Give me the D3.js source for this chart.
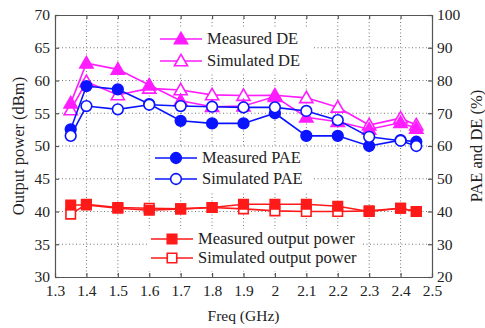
<!DOCTYPE html>
<html>
<head>
<meta charset="utf-8">
<script src="https://cdn.jsdelivr.net/npm/d3@7"></script>
<style>
  body { margin: 0; background: #fff; }
  svg text { font-family: "Liberation Serif", "Times New Roman", "DejaVu Serif", serif !important; fill: #222; }
</style>
</head>
<body>
<svg id="chart" width="485" height="328" font-family="Liberation Serif, serif"></svg>
<script>
// Frequencies (GHz)
const freq = [1.35, 1.4, 1.5, 1.6, 1.7, 1.8, 1.9, 2.0, 2.1, 2.2, 2.3, 2.4, 2.45];

// Right axis series (%)
const measDE  = [73.1, 85.3, 83.4, 78.6, 73.8, 72.0, 72.2, 75.1, 68.8, 67.4, 65.1, 67.1, 65.4];
const simDE   = [71.0, 79.6, 75.6, 77.6, 77.1, 75.6, 75.4, 75.5, 74.7, 71.8, 66.4, 68.5, 66.4];
const measPAE = [65.1, 78.3, 77.3, 72.8, 67.7, 66.9, 66.9, 70.0, 63.1, 63.1, 60.0, 61.8, 61.3];
const simPAE  = [63.1, 72.2, 71.2, 72.6, 72.2, 72.0, 71.8, 71.8, 70.7, 67.9, 62.8, 61.6, 60.0];

// Left axis series (dBm)
const measPout = [41.0, 41.0, 40.5, 40.2, 40.4, 40.6, 41.1, 41.1, 41.1, 40.8, 40.0, 40.5, 40.0];
const simPout  = [39.6, 41.1, 40.6, 40.5, 40.4, 40.6, 40.4, 40.1, 40.0, 40.0, 40.1, 40.5, 40.0];

const xTicks = [1.3, 1.4, 1.5, 1.6, 1.7, 1.8, 1.9, 2.0, 2.1, 2.2, 2.3, 2.4, 2.5];
const yLeftTicks = [30, 35, 40, 45, 50, 55, 60, 65, 70];
const yRightTicks = [20, 30, 40, 50, 60, 70, 80, 90, 100];

const MAG = '#ff1cff', BLUE = '#0a14ff', RED = '#ff1a1a';
const FONT = '"Liberation Serif", "Times New Roman", serif';

const svg = d3.select('#chart');
const m = {left: 55, right: 53, top: 15, bottom: 51};
const W = 485, H = 328;
const x = d3.scaleLinear().domain([1.3, 2.5]).range([m.left, W - m.right]);
const yL = d3.scaleLinear().domain([30, 70]).range([H - m.bottom, m.top]);
const yR = d3.scaleLinear().domain([20, 100]).range([H - m.bottom, m.top]);

// grid
const grid = svg.append('g').attr('stroke', '#777').attr('stroke-width', 1).attr('stroke-dasharray', '1,2.5');
grid.selectAll('line.vx').data(xTicks.slice(1, -1)).join('line')
  .attr('x1', d => x(d)).attr('x2', d => x(d)).attr('y1', m.top).attr('y2', H - m.bottom);
grid.selectAll('line.hy').data(yLeftTicks.slice(1, -1)).join('line')
  .attr('x1', m.left).attr('x2', W - m.right).attr('y1', d => yL(d)).attr('y2', d => yL(d));

// legend backgrounds (cover grid)
const legBoxes = [[150, 27, 162, 47], [150, 147, 163, 44], [147, 229, 216, 42]];
svg.append('g').selectAll('rect').data(legBoxes).join('rect')
  .attr('x', d => d[0]).attr('y', d => d[1]).attr('width', d => d[2]).attr('height', d => d[3])
  .attr('fill', '#fff');

// axes
const axisColor = '#555';
const ax = svg.append('g');
ax.append('g').attr('transform', `translate(0,${H - m.bottom})`)
  .call(d3.axisBottom(x).tickValues(xTicks).tickFormat(d3.format('')).tickSizeInner(-4).tickSizeOuter(0).tickPadding(8));
ax.append('g').attr('transform', `translate(0,${m.top})`)
  .call(d3.axisTop(x).tickValues(xTicks).tickFormat('').tickSizeInner(-4).tickSizeOuter(0));
ax.append('g').attr('transform', `translate(${m.left},0)`)
  .call(d3.axisLeft(yL).tickValues(yLeftTicks).tickSizeInner(-4).tickSizeOuter(0).tickPadding(5));
ax.append('g').attr('transform', `translate(${W - m.right},0)`)
  .call(d3.axisRight(yR).tickValues(yRightTicks).tickSizeInner(-4).tickSizeOuter(0).tickPadding(5));
ax.selectAll('g').attr('font-family', FONT);
ax.selectAll('path, line').attr('stroke', axisColor).attr('stroke-width', 1.2);
ax.selectAll('text').attr('font-size', 15.5).attr('fill', '#222');

// titles
svg.append('text').attr('x', (m.left + W - m.right) / 2).attr('y', 321).attr('text-anchor', 'middle')
  .attr('font-size', 15.5).text('Freq (GHz)');
svg.append('text').attr('transform', `translate(24,${(m.top + H - m.bottom) / 2}) rotate(-90)`)
  .attr('text-anchor', 'middle').attr('font-size', 16.5).text('Output power (dBm)');
svg.append('text').attr('transform', `translate(482,${(m.top + H - m.bottom) / 2}) rotate(-90)`)
  .attr('text-anchor', 'middle').attr('font-size', 16.5).text('PAE and DE (%)');

// symbols
const sym = {
  tri: d3.symbol(d3.symbolTriangle, 75),
  circ: d3.symbol(d3.symbolCircle, 90),
  sq: d3.symbol(d3.symbolSquare, 90)
};

function drawSeries(vals, yScale, color, shape, filled) {
  const data = freq.map((f, i) => [f, vals[i]]);
  const g = svg.append('g');
  g.append('path').datum(data)
    .attr('fill', 'none').attr('stroke', color).attr('stroke-width', 1.6)
    .attr('d', d3.line().x(d => x(d[0])).y(d => yScale(d[1])));
  g.selectAll('path.mk').data(data).join('path').attr('class', 'mk')
    .attr('transform', d => `translate(${x(d[0])},${yScale(d[1]) + (shape === 'tri' ? 1 : 0)})`)
    .attr('d', sym[shape]())
    .attr('fill', filled ? color : '#fff').attr('stroke', color).attr('stroke-width', 1.6);
}

drawSeries(simPout, yL, RED, 'sq', false);
drawSeries(measPout, yL, RED, 'sq', true);
drawSeries(simDE, yR, MAG, 'tri', false);
drawSeries(measDE, yR, MAG, 'tri', true);
drawSeries(measPAE, yR, BLUE, 'circ', true);
drawSeries(simPAE, yR, BLUE, 'circ', false);

// legends
const legends = [
  {x0: 160, y: 39, label: 'Measured DE', color: MAG, shape: 'tri', filled: true},
  {x0: 160, y: 61, label: 'Simulated DE', color: MAG, shape: 'tri', filled: false},
  {x0: 155, y: 158, label: 'Measured PAE', color: BLUE, shape: 'circ', filled: true},
  {x0: 155, y: 179, label: 'Simulated PAE', color: BLUE, shape: 'circ', filled: false},
  {x0: 151, y: 239, label: 'Measured output power', color: RED, shape: 'sq', filled: true},
  {x0: 151, y: 258, label: 'Simulated output power', color: RED, shape: 'sq', filled: false}
];
const lg = svg.append('g');
legends.forEach(d => {
  lg.append('line').attr('x1', d.x0).attr('x2', d.x0 + 42).attr('y1', d.y).attr('y2', d.y)
    .attr('stroke', d.color).attr('stroke-width', 1.6);
  lg.append('path').attr('transform', `translate(${d.x0 + 21},${d.y + (d.shape === 'tri' ? 1 : 0)})`)
    .attr('d', sym[d.shape]())
    .attr('fill', d.filled ? d.color : '#fff').attr('stroke', d.color).attr('stroke-width', 1.6);
  lg.append('text').attr('x', d.x0 + 47).attr('y', d.y + 5).attr('font-size', 16.5)
    .attr('font-family', FONT).text(d.label);
});
</script>
</body>
</html>
